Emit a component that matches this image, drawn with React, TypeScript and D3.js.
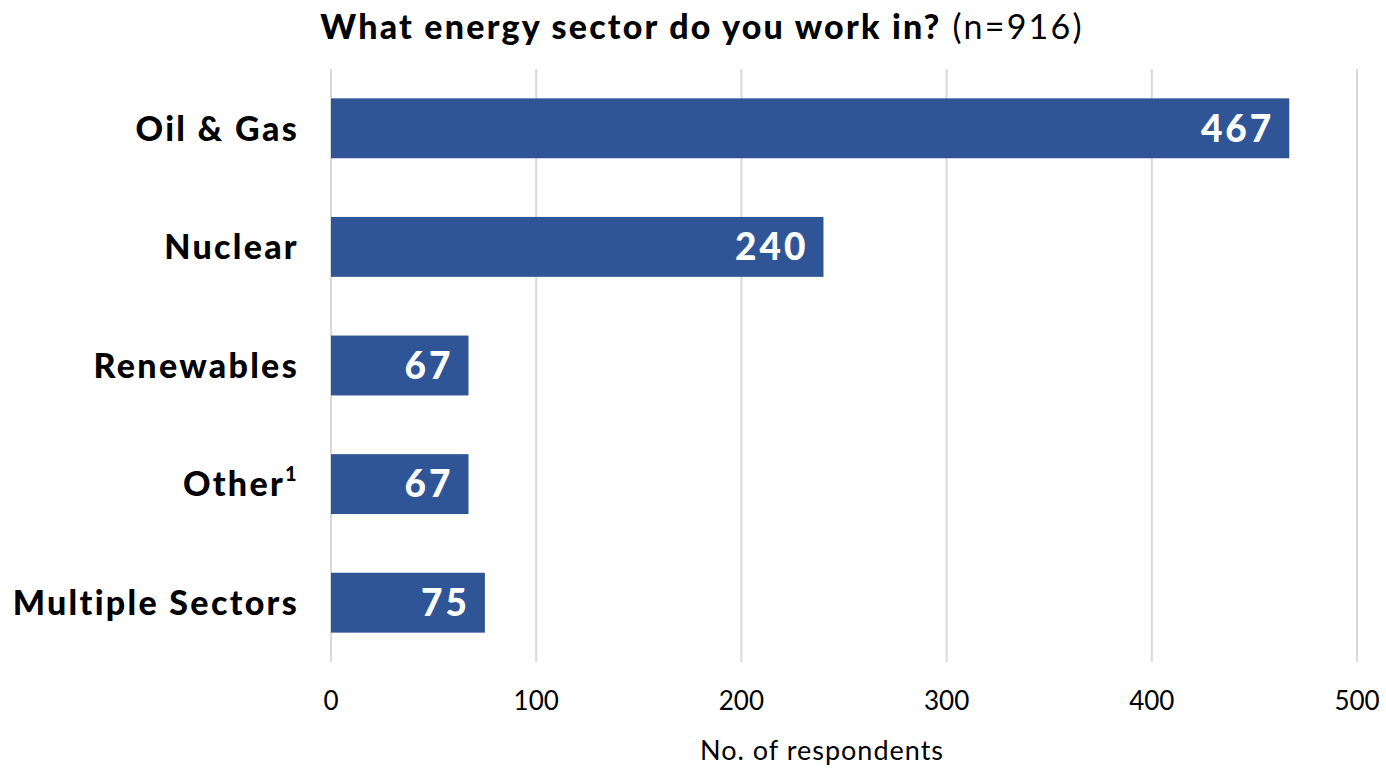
import * as d3 from 'd3';
import React from 'react';

const categories = ['Oil & Gas', 'Nuclear', 'Renewables', 'Other', 'Multiple Sectors'];
const values = [467, 240, 67, 67, 75];
const ticks = [0, 100, 200, 300, 400, 500];

const W = 1386;
const H = 769;
const FONT = 'Lato, "Open Sans", sans-serif';

const App = () => {
  const x = d3.scaleLinear().domain([0, 500]).range([331, 1357]);
  const y = d3
    .scaleBand()
    .domain(categories)
    .range([69, 662])
    .paddingInner(0.495)
    .paddingOuter(0.2475);

  return (
    <svg width={W} height={H} style={{ position: 'absolute', left: 0, top: 0 }} fontFamily={FONT}>
      <text x={702} y={39} textAnchor="middle" fontSize={34} letterSpacing={2.2}>
        <tspan fontWeight={900}>What energy sector do you work in?</tspan>
        <tspan fontWeight="normal"> (n=916)</tspan>
      </text>

      {ticks.map((t) => (
        <g key={t}>
          <line x1={x(t)} x2={x(t)} y1={69} y2={662} stroke="#d9d9d9" strokeWidth={2} />
          <text x={x(t)} y={710} textAnchor="middle" fontSize={26}>
            {t}
          </text>
        </g>
      ))}

      {categories.map((c, i) => {
        const yy = y(c)!;
        const bw = y.bandwidth();
        return (
          <g key={c}>
            <rect x={x(0)} y={yy} width={x(values[i]) - x(0)} height={bw} fill="#2f5597" />
            <text
              x={x(values[i]) - 15}
              y={yy + bw / 2}
              dy="0.36em"
              textAnchor="end"
              fill="#fff"
              fontWeight={900}
              fontSize={37}
              letterSpacing={3}
            >
              {values[i]}
            </text>
            <text
              x={299}
              y={yy + bw / 2}
              dy="0.36em"
              textAnchor="end"
              fontWeight={900}
              fontSize={34}
              letterSpacing={2.3}
            >
              {c}
              {c === 'Other' && (
                <tspan fontSize={20} dy="-0.75em">
                  1
                </tspan>
              )}
            </text>
          </g>
        );
      })}

      <text x={822} y={760} textAnchor="middle" fontSize={27} letterSpacing={1}>
        No. of respondents
      </text>
    </svg>
  );
};

export default App;
